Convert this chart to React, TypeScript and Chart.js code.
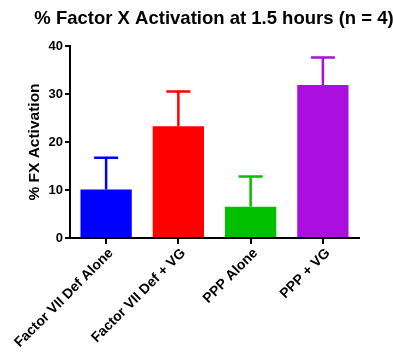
import React, { useEffect, useRef } from "react";
import { Chart, registerables } from "chart.js";

Chart.register(...registerables);

const categories = ["Factor VII Def Alone", "Factor VII Def + VG", "PPP Alone", "PPP + VG"];
const means = [10.1, 23.3, 6.5, 31.9];
const errors = [6.6, 7.2, 6.3, 5.7];
const barColors = ["#0000ff", "#ff0000", "#00c000", "#aa0fe0"];
const yTicks = [0, 10, 20, 30, 40];
const titleText = "% Factor X Activation at 1.5 hours (n = 4)";
const yLabel = "% FX Activation";

const FONT = "'Liberation Sans', Arial, sans-serif";

const overlay = {
  id: "overlay",
  afterDatasetsDraw(chart: any) {
    const ctx = chart.ctx;
    const meta = chart.getDatasetMeta(0);
    const y = chart.scales.y;
    ctx.save();
    meta.data.forEach((bar: any, i: number) => {
      const x = bar.x;
      const top = y.getPixelForValue(means[i] + errors[i]);
      const base = y.getPixelForValue(means[i]);
      ctx.strokeStyle = barColors[i];
      ctx.lineWidth = 2.5;
      ctx.beginPath();
      ctx.moveTo(x, base);
      ctx.lineTo(x, top);
      ctx.moveTo(x - 12, top);
      ctx.lineTo(x + 12, top);
      ctx.stroke();
    });
    ctx.restore();
  },
  afterDraw(chart: any) {
    const ctx = chart.ctx;
    const xs = chart.scales.x;
    ctx.save();
    ctx.fillStyle = "#000";
    ctx.font = `bold 18.5px ${FONT}`;
    ctx.textAlign = "center";
    ctx.textBaseline = "alphabetic";
    ctx.fillText(titleText, 214, 24);
    ctx.save();
    ctx.translate(39, 142);
    ctx.rotate(-Math.PI / 2);
    ctx.font = `bold 15.5px ${FONT}`;
    ctx.fillText(yLabel, 0, 0);
    ctx.restore();
    ctx.font = `bold 14px ${FONT}`;
    ctx.textAlign = "right";
    ctx.textBaseline = "middle";
    categories.forEach((c, i) => {
      const px = xs.getPixelForValue(i);
      ctx.save();
      ctx.translate(px + 5, xs.top + 13);
      ctx.rotate(-Math.PI / 4);
      ctx.fillText(c, 0, 0);
      ctx.restore();
    });
    ctx.restore();
  },
};

export default function App() {
  const ref = useRef<HTMLCanvasElement>(null);
  useEffect(() => {
    document.body.style.margin = "0";
    const chart = new Chart(ref.current!, {
      type: "bar",
      data: {
        labels: categories,
        datasets: [
          {
            data: means,
            backgroundColor: barColors,
            borderWidth: 0,
            categoryPercentage: 1,
            barPercentage: 0.71,
          },
        ],
      },
      options: {
        animation: false,
        responsive: false,
        maintainAspectRatio: false,
        layout: { padding: { top: 46, right: 34, left: 0, bottom: 0 } },
        plugins: { legend: { display: false }, title: { display: false }, tooltip: { enabled: false } },
        scales: {
          x: {
            grid: { display: true, offset: false, drawOnChartArea: false, drawTicks: true, tickLength: 6, color: "#000", lineWidth: 2 },
            border: { display: true, color: "#000", width: 2 },
            ticks: { display: false, autoSkip: false },
            afterFit(scale: any) {
              scale.height = 114;
            },
          },
          y: {
            min: 0,
            max: 40,
            grid: { display: true, drawOnChartArea: false, drawTicks: true, tickLength: 5, color: "#000", lineWidth: 2 },
            border: { display: true, color: "#000", width: 2 },
            ticks: {
              color: "#000",
              stepSize: 10,
              font: { family: FONT, size: 13, weight: "bold" },
              padding: 2,
              callback: (v: any) => (yTicks.includes(Number(v)) ? String(v) : ""),
            },
            afterFit(scale: any) {
              scale.width = 70;
            },
          },
        },
      },
      plugins: [overlay],
    });
    return () => chart.destroy();
  }, []);
  return (
    <div style={{ position: "fixed", left: 0, top: 0, width: 393, height: 352 }}>
      <canvas ref={ref} width={393} height={352} />
    </div>
  );
}
